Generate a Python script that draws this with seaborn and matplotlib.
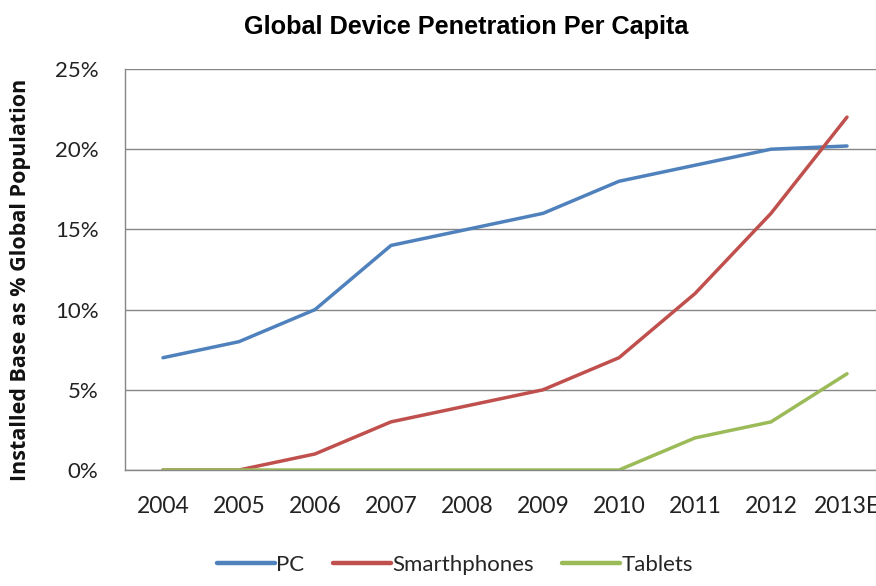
import matplotlib
matplotlib.use("Agg")
import matplotlib.pyplot as plt
import seaborn as sns
import pandas as pd
import numpy as np
from matplotlib.ticker import FixedLocator
from matplotlib.lines import Line2D

years = ["2004", "2005", "2006", "2007", "2008", "2009", "2010", "2011", "2012", "2013E"]
pc = [7, 8, 10, 14, 15, 16, 18, 19, 20, 20.2]
smartphones = [0, 0, 1, 3, 4, 5, 7, 11, 16, 22]
tablets = [0, 0, 0, 0, 0, 0, 0, 2, 3, 6]
series_names = ["PC", "Smarthphones", "Tablets"]
y_ticks = [0, 5, 10, 15, 20, 25]

rows = []
for name, vals in zip(series_names, [pc, smartphones, tablets]):
    for i, (yr, v) in enumerate(zip(years, vals)):
        rows.append({"idx": i, "year": yr, "value": v, "series": name})
df = pd.DataFrame(rows)

sns.set_theme(style="white")
plt.rcParams["font.family"] = ["Lato", "DejaVu Sans"]

W, H = 876, 586
fig = plt.figure(figsize=(W / 100, H / 100), dpi=100)
left, right, top, bottom = 125, 885, 69, 470
ax = fig.add_axes([left / W, 1 - bottom / H, (right - left) / W, (bottom - top) / H])

palette = {"PC": "#4F81BD", "Smarthphones": "#C0504D", "Tablets": "#9BBB59"}
sns.lineplot(data=df, x="idx", y="value", hue="series", palette=palette,
             linewidth=2.5, ax=ax, sort=False, legend=False)

ax.set_xlim(-0.5, len(years) - 0.5)
ax.set_ylim(0, 25)
ax.set_yticks(y_ticks)
ax.set_yticklabels([f"{t}%" for t in y_ticks])
ax.set_xticks(range(len(years)))
ax.set_xticklabels(years)
ax.xaxis.set_minor_locator(FixedLocator(np.arange(0.5, len(years) - 0.5, 1)))
ax.tick_params(axis="x", which="major", length=0, pad=19, labelsize=16.5, colors="#222222")
ax.tick_params(axis="x", which="minor", length=6, width=1, color="#868686", direction="out")
ax.tick_params(axis="y", length=8, width=1, color="#868686", direction="out", pad=11,
               labelsize=16, labelcolor="#222222")

ax.grid(axis="y", color="#868686", linewidth=1)
ax.set_axisbelow(True)
for s in ["top", "right"]:
    ax.spines[s].set_visible(False)
for s in ["left", "bottom"]:
    ax.spines[s].set_color("#868686")
    ax.spines[s].set_linewidth(1)

ax.set_xlabel("")
ax.set_ylabel("")
fig.text(21 / W, 1 - 280 / H, "Installed Base as % Global Population", rotation=90,
         ha="center", va="center", fontsize=15.5, fontweight="bold",
         family=["Open Sans", "DejaVu Sans"], color="#111111")

fig.text(466 / W, 1 - 27 / H, "Global Device Penetration Per Capita", ha="center", va="center",
         fontsize=18.2, fontweight="bold", family=["Liberation Sans", "DejaVu Sans"], color="black")

handles = [Line2D([], [], color=palette[n], linewidth=3.2) for n in series_names]
fig.legend(handles, series_names, loc="center", bbox_to_anchor=(455 / W, 1 - 565 / H),
           ncol=3, frameon=False, fontsize=16, handlelength=2.6, handletextpad=0.05,
           columnspacing=1.3)

fig.savefig("out.png", dpi=100)
